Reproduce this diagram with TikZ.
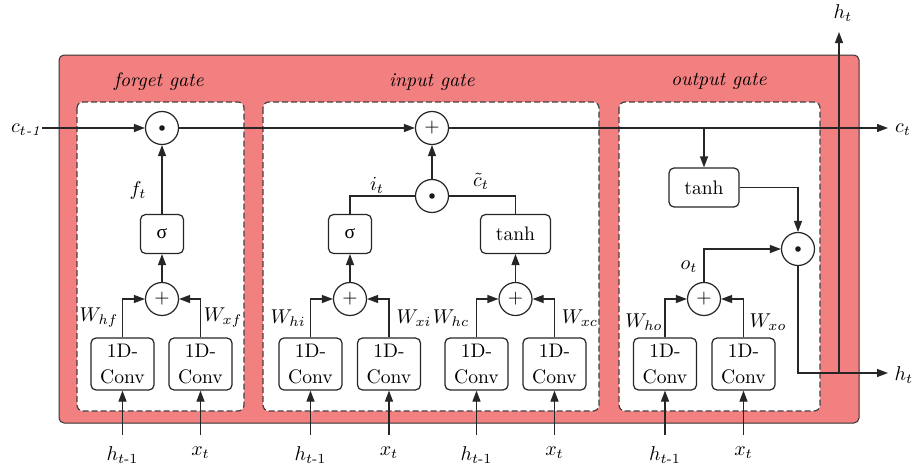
\documentclass[tikz,border=0pt]{standalone}
\usepackage{amsmath}
\usepackage{fontspec}
\newfontfamily\greekfont{Liberation Serif}
\usetikzlibrary{arrows.meta}
\definecolor{gatepink}{RGB}{243,128,128}
\begin{document}
\begin{tikzpicture}[x=0.5pt,y=-0.5pt,
  font=\fontsize{9.8}{12.6}\selectfont,
  ln/.style={line width=0.6pt, draw=black!85},
  arr/.style={ln, -{Triangle[length=5.5pt,width=4pt]}},
  op/.style={circle, draw=black!85, line width=0.6pt, minimum size=16.5pt, inner sep=0pt, fill=white},
  fn/.style={rectangle, rounded corners=2.5pt, draw=black!85, line width=0.6pt, minimum height=19.5pt, inner sep=0pt, fill=white},
  conv/.style={fn, minimum width=31.5pt, minimum height=26pt, align=center},
  gatebox/.style={draw=black!75, dash pattern=on 3pt off 1.5pt, line width=0.6pt, rounded corners=3pt, fill=white},
  lbl/.style={inner sep=0.5pt}
]
\useasboundingbox (0,0) rectangle (912,471);
% outer cell
\draw[fill=gatepink, draw=black!80, line width=0.5pt, rounded corners=2.5pt] (59,55) rectangle (859,423);
% gate boxes
\draw[gatebox] (77,102) rectangle (244,411);
\draw[gatebox] (263,102) rectangle (599,411);
\draw[gatebox] (619,102) rectangle (820,411);
\node[lbl] (lforget) at (159,82) {\textit{forget gate}};
\node[lbl] (linput) at (432,82) {\textit{input gate}};
\node[lbl] (loutput) at (719,81) {\textit{output gate}};

% ---------- forget gate
\node[op] (fdot) at (162,128) {};
\node[fn, minimum width=21.5pt] (fsig) at (162,234) {\greekfont σ};
\node[op] (fpl) at (162,299) {+};
\node[conv] (fc1) at (122.5,364) {1D-\\Conv};
\node[conv] (fc2) at (200.5,364) {1D-\\Conv};

% ---------- input gate
\node[op] (ipl) at (432,128) {+};
\node[op] (idot) at (432,196) {};
\node[fn, minimum width=21.5pt] (isig) at (350,234) {\greekfont σ};
\node[fn, minimum width=35pt] (itanh) at (515.5,234) {tanh};
\node[op] (ipl1) at (350,299) {+};
\node[op] (ipl2) at (515.5,299) {+};
\node[conv] (ic1) at (310.5,364) {1D-\\Conv};
\node[conv] (ic2) at (389,364) {1D-\\Conv};
\node[conv] (ic3) at (476.5,364) {1D-\\Conv};
\node[conv] (ic4) at (554.5,364) {1D-\\Conv};

% ---------- output gate
\node[fn, minimum width=35pt] (otanh) at (704,187.5) {tanh};
\node[op] (odot) at (798,249) {};
\node[op] (opl) at (704,299) {+};
\node[conv] (oc1) at (665,364) {1D-\\Conv};
\node[conv] (oc2) at (743.5,364) {1D-\\Conv};

% dots
\foreach \n in {fdot,idot,odot} \fill[black!90] (\n.center) circle (1.4pt);

% ---------- outer labels
\node[lbl] (cprev) at (26,130) {$c_{t\textit{-1}}$};
\node[lbl] (ctl) at (903,130) {$c_t$};
\node[lbl] (htl1) at (843,13) {$h_t$};
\node[lbl] (htl2) at (904,375) {$h_t$};
\coordinate (ctend) at (888,128);
\coordinate (htend) at (888,373);
\coordinate (hj) at (839,373);
\coordinate (htop) at (839,32);
\coordinate (tap) at (704,128);

% bottom inputs
\foreach \c in {fc1,fc2,ic1,ic2,ic3,ic4,oc1,oc2}{
  \coordinate (\c in) at ([yshift=-35.5pt]\c.center);
}
\foreach \c in {fc1,ic1,ic3,oc1}{
  \node[lbl] (\c lab) at ([yshift=-45.5pt]\c.center) {$h_{t\text{-}1}$};
}
\foreach \c in {fc2,ic2,ic4,oc2}{
  \node[lbl] (\c lab) at ([yshift=-44.5pt]\c.center) {$x_t$};
}
\foreach \c in {fc1,fc2,ic1,ic2,ic3,ic4,oc1,oc2}{
  \draw[arr] (\c in) -- (\c.south);
}

% ---------- forget connectors
\draw[arr] (cprev.east |- fdot.center) -- (fdot.west);
\draw[arr] (fsig) -- (fdot);
\draw[arr] (fpl) -- (fsig);
\draw[arr] (fc1.north) |- (fpl.west);
\draw[arr] (fc2.north) |- (fpl.east);
\node[lbl] (flab) at (138,190) {$f_t$};
\node[lbl] (whf) at (99,318) {$W_{hf}$};
\node[lbl] (wxf) at (223,318) {$W_{xf}$};

% ---------- input connectors
\draw[arr] (fdot) -- (ipl);
\draw[arr] (ipl) -- (ctend);
\draw[ln] (isig.north) |- (idot.west);
\draw[ln] (itanh.north) |- (idot.east);
\draw[arr] (idot) -- (ipl);
\draw[arr] (ipl1) -- (isig);
\draw[arr] (ipl2) -- (itanh);
\draw[arr] (ic1.north) |- (ipl1.west);
\draw[arr] (ic2.north) |- (ipl1.east);
\draw[arr] (ic3.north) |- (ipl2.west);
\draw[arr] (ic4.north) |- (ipl2.east);
\node[lbl] (ilab) at (377,185) {$i_t$};
\node[lbl] (clab) at (481,181) {$\tilde{c}_t$};
\node[lbl] (whi) at (288,318) {$W_{hi}$};
\node[lbl] (wxi) at (414,318) {$W_{xi}$};
\node[lbl] (whc) at (451,318) {$W_{hc}$};
\node[lbl] (wxc) at (580,318) {$W_{xc}$};

% ---------- output connectors
\draw[arr] (tap) -- (otanh);
\draw[arr] (otanh.east) -| (odot.north);
\draw[arr] (opl.north) |- (odot.west);
\draw[arr] (oc1.north) |- (opl.west);
\draw[arr] (oc2.north) |- (opl.east);
\draw[arr] (odot.south) |- (htend);
\draw[arr] (hj) -- (htop);
\node[lbl] (olab) at (689,267) {$o_t$};
\node[lbl] (who) at (644,322) {$W_{ho}$};
\node[lbl] (wxo) at (768,322) {$W_{xo}$};
\end{tikzpicture}
\end{document}
